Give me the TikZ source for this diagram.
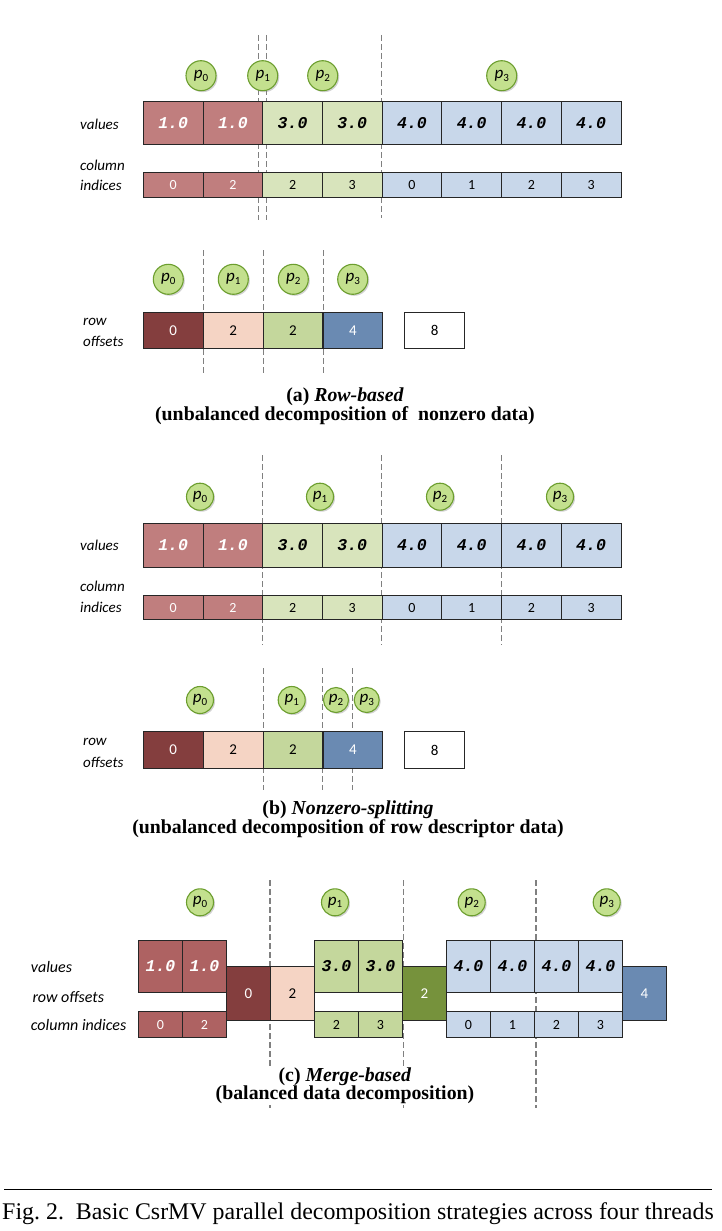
\documentclass[tikz,border=0pt]{standalone}
\usepackage{fontspec}
\usepackage{xcolor}
\usepackage{tikz}
\usetikzlibrary{shadows}
\setmainfont{Liberation Serif}
\newfontfamily\lblfont{Carlito}
\newfontfamily\valfont{Liberation Mono}

\definecolor{redA}{HTML}{C07E7E}
\definecolor{greenA}{HTML}{D8E4BC}
\definecolor{blueA}{HTML}{C8D7EA}
\definecolor{redC}{HTML}{AE6262}
\definecolor{greenC}{HTML}{C4D79C}
\definecolor{offdark}{HTML}{843E3E}
\definecolor{offpink}{HTML}{F5D4C4}
\definecolor{offgreen}{HTML}{C4D79C}
\definecolor{offolive}{HTML}{76923C}
\definecolor{offblue}{HTML}{6A8AB2}
\definecolor{pfill}{HTML}{C3E08E}
\definecolor{pborder}{HTML}{6C9E2E}

\newcommand{\thr}[1]{{\itshape p}\raisebox{-0.35ex}{\fontsize{11}{11}\selectfont #1}}

\tikzset{
  vcell/.style={draw=black!85,line width=0.8pt,inner sep=0pt,minimum width=59.7pt,minimum height=43.3pt,
    font=\valfont\bfseries\itshape\fontsize{16.5}{18}\selectfont},
  icell/.style={draw=black!85,line width=0.8pt,inner sep=0pt,minimum width=59.7pt,minimum height=24.6pt,
    font=\lblfont\fontsize{14}{16}\selectfont},
  ocell/.style={draw=black!85,line width=0.8pt,inner sep=0pt,minimum width=59.7pt,minimum height=36.7pt,
    font=\lblfont\fontsize{15}{17}\selectfont},
  thread/.style={circle,draw=pborder,fill=pfill,line width=1.1pt,minimum size=27pt,inner sep=0pt,
    font=\lblfont\fontsize{17}{19}\selectfont,
    drop shadow={opacity=0.35,shadow xshift=1.5pt,shadow yshift=-1.5pt}},
  split/.style={draw=black!50,line width=1.2pt,dash pattern=on 6pt off 3pt},
  lbl/.style={anchor=west,inner sep=0pt,font=\lblfont\itshape\fontsize{15}{17}\selectfont},
  capt/.style={align=center,inner sep=0pt,font=\bfseries\fontsize{19.8}{18}\selectfont}
}

\begin{document}
\begin{tikzpicture}[x=1pt,y=-1pt]
    \useasboundingbox[fill=white] (0,0) rectangle (722,1231);

    % (a) row-based
    \draw[split] (258.7,35) -- (258.7,220);
    \draw[split] (266.7,35) -- (266.7,220);
    \draw[split] (381.7,35) -- (381.7,218);
    \node[thread,minimum size=30pt] (ap0) at (201,75.7) {\thr{0}};
    \node[thread,minimum size=30pt] (ap1) at (262.7,75.7) {\thr{1}};
    \node[thread,minimum size=30pt] (ap2) at (322.7,75.7) {\thr{2}};
    \node[thread,minimum size=30pt] (ap3) at (501.7,75.7) {\thr{3}};
    \node[lbl] (avl) at (80,124) {values};
    \node[lbl] (acl) at (80,165) {column};
    \node[lbl] (ail) at (80,185) {indices};
    \node[vcell,fill=redA,text=white] (av1) at (173.15,122.7) {1.0};
    \node[vcell,fill=redA,text=white] (av2) at (232.85,122.7) {1.0};
    \node[vcell,fill=greenA] (av3) at (292.55,122.7) {3.0};
    \node[vcell,fill=greenA] (av4) at (352.25,122.7) {3.0};
    \node[vcell,fill=blueA] (av5) at (411.95,122.7) {4.0};
    \node[vcell,fill=blueA] (av6) at (471.65,122.7) {4.0};
    \node[vcell,fill=blueA] (av7) at (531.35,122.7) {4.0};
    \node[vcell,fill=blueA] (av8) at (591.05,122.7) {4.0};
    \node[icell,fill=redA,text=white] (ac1) at (173.15,185) {0};
    \node[icell,fill=redA,text=white] (ac2) at (232.85,185) {2};
    \node[icell,fill=greenA] (ac3) at (292.55,185) {2};
    \node[icell,fill=greenA] (ac4) at (352.25,185) {3};
    \node[icell,fill=blueA] (ac5) at (411.95,185) {0};
    \node[icell,fill=blueA] (ac6) at (471.65,185) {1};
    \node[icell,fill=blueA] (ac7) at (531.35,185) {2};
    \node[icell,fill=blueA] (ac8) at (591.05,185) {3};

    \draw[split] (203.3,250) -- (203.3,375);
    \draw[split] (263.3,250) -- (263.3,375);
    \draw[split] (323.3,250) -- (323.3,375);
    \node[thread,minimum size=30pt] (aq0) at (168.3,279.3) {\thr{0}};
    \node[thread,minimum size=30pt] (aq1) at (233.3,279.3) {\thr{1}};
    \node[thread,minimum size=30pt] (aq2) at (293.3,279.3) {\thr{2}};
    \node[thread,minimum size=30pt] (aq3) at (352.7,279.3) {\thr{3}};
    \node[lbl] (arl) at (83,321.7) {row};
    \node[lbl] (aol) at (83,341.7) {offsets};
    \node[ocell,fill=offdark,text=white] (ar1) at (173.2,330.3) {0};
    \node[ocell,fill=offpink] (ar2) at (233.1,330.3) {2};
    \node[ocell,fill=offgreen] (ar3) at (292.9,330.3) {2};
    \node[ocell,fill=offblue,text=white] (ar4) at (352.8,330.3) {4};
    \node[ocell,fill=white] (ar5) at (434.7,330.3) {8};
    \node[capt] (capa) at (345,406) {(a) \textit{Row-based}\\(unbalanced decomposition of~ nonzero data)};

    % (b) nonzero-splitting
    \draw[split] (262.7,455) -- (262.7,645);
    \draw[split] (381.7,455) -- (381.7,645);
    \draw[split] (501.7,455) -- (501.7,645);
    \node[thread] (bp0) at (200,496.7) {\thr{0}};
    \node[thread] (bp1) at (320,496.7) {\thr{1}};
    \node[thread] (bp2) at (440,496.7) {\thr{2}};
    \node[thread] (bp3) at (560,496.7) {\thr{3}};
    \node[lbl] (bvl) at (80,545.5) {values};
    \node[lbl] (bcl) at (80,586.5) {column};
    \node[lbl] (bil) at (80,607) {indices};
    \node[vcell,fill=redA,text=white] (bv1) at (173.15,545.3) {1.0};
    \node[vcell,fill=redA,text=white] (bv2) at (232.85,545.3) {1.0};
    \node[vcell,fill=greenA] (bv3) at (292.55,545.3) {3.0};
    \node[vcell,fill=greenA] (bv4) at (352.25,545.3) {3.0};
    \node[vcell,fill=blueA] (bv5) at (411.95,545.3) {4.0};
    \node[vcell,fill=blueA] (bv6) at (471.65,545.3) {4.0};
    \node[vcell,fill=blueA] (bv7) at (531.35,545.3) {4.0};
    \node[vcell,fill=blueA] (bv8) at (591.05,545.3) {4.0};
    \node[icell,fill=redA,text=white] (bc1) at (173.15,607.5) {0};
    \node[icell,fill=redA,text=white] (bc2) at (232.85,607.5) {2};
    \node[icell,fill=greenA] (bc3) at (292.55,607.5) {2};
    \node[icell,fill=greenA] (bc4) at (352.25,607.5) {3};
    \node[icell,fill=blueA] (bc5) at (411.95,607.5) {0};
    \node[icell,fill=blueA] (bc6) at (471.65,607.5) {1};
    \node[icell,fill=blueA] (bc7) at (531.35,607.5) {2};
    \node[icell,fill=blueA] (bc8) at (591.05,607.5) {3};

    \draw[split] (263.3,668) -- (263.3,790);
    \draw[split] (322.7,668) -- (322.7,790);
    \draw[split] (352.7,668) -- (352.7,790);
    \node[thread] (bq0) at (200,700) {\thr{0}};
    \node[thread] (bq1) at (291.7,700) {\thr{1}};
    \node[thread,minimum size=25pt] (bq2) at (336,700) {\thr{2}};
    \node[thread,minimum size=25pt] (bq3) at (366.7,700) {\thr{3}};
    \node[lbl] (brl) at (83,742) {row};
    \node[lbl] (bol) at (83,762) {offsets};
    \node[ocell,fill=offdark,text=white] (br1) at (173.2,750) {0};
    \node[ocell,fill=offpink] (br2) at (233.1,750) {2};
    \node[ocell,fill=offgreen] (br3) at (292.9,750) {2};
    \node[ocell,fill=offblue,text=white] (br4) at (352.8,750) {4};
    \node[ocell,fill=white] (br5) at (434.7,750) {8};
    \node[capt] (capb) at (348,819) {(b) \textit{Nonzero-splitting}\\(unbalanced decomposition of row descriptor data)};

    % (c) merge-based
    \draw[split] (270,880) -- (270,1108);
    \draw[split] (403.3,880) -- (403.3,1108);
    \draw[split] (536,880) -- (536,1108);
    \node[thread] (cp0) at (200,902.3) {\thr{0}};
    \node[thread] (cp1) at (335,902.3) {\thr{1}};
    \node[thread] (cp2) at (471.7,902.3) {\thr{2}};
    \node[thread] (cp3) at (606.7,902.3) {\thr{3}};
    \node[lbl,font=\lblfont\itshape\fontsize{16}{18}\selectfont] (cvl) at (30.7,967) {values};
    \node[lbl,font=\lblfont\itshape\fontsize{16}{18}\selectfont] (col) at (32.3,996.7) {row offsets};
    \node[lbl,font=\lblfont\itshape\fontsize{16}{18}\selectfont] (ccl) at (30.7,1025) {column indices};
    \node[vcell,minimum width=44pt,minimum height=52.7pt,fill=redC,text=white] (cv1) at (160.5,966.3) {1.0};
    \node[vcell,minimum width=44pt,minimum height=52.7pt,fill=redC,text=white] (cv2) at (204.5,966.3) {1.0};
    \node[ocell,minimum width=44pt,minimum height=53.3pt,fill=offdark,text=white] (cr1) at (248.5,993.3) {0};
    \node[ocell,minimum width=44pt,minimum height=53.3pt,fill=offpink] (cr2) at (292.5,993.3) {2};
    \node[vcell,minimum width=44pt,minimum height=52.7pt,fill=greenC] (cv3) at (336.5,966.3) {3.0};
    \node[vcell,minimum width=44pt,minimum height=52.7pt,fill=greenC] (cv4) at (380.5,966.3) {3.0};
    \node[ocell,minimum width=44pt,minimum height=53.3pt,fill=offolive,text=white] (cr3) at (424.5,993.3) {2};
    \node[vcell,minimum width=44pt,minimum height=52.7pt,fill=blueA] (cv5) at (468.5,966.3) {4.0};
    \node[vcell,minimum width=44pt,minimum height=52.7pt,fill=blueA] (cv6) at (512.5,966.3) {4.0};
    \node[vcell,minimum width=44pt,minimum height=52.7pt,fill=blueA] (cv7) at (556.5,966.3) {4.0};
    \node[vcell,minimum width=44pt,minimum height=52.7pt,fill=blueA] (cv8) at (600.5,966.3) {4.0};
    \node[ocell,minimum width=44pt,minimum height=53.3pt,fill=offblue,text=white] (cr4) at (644.5,993.3) {4};
    \node[icell,minimum width=44pt,minimum height=25.6pt,fill=redC,text=white] (cc1) at (160.5,1024.5) {0};
    \node[icell,minimum width=44pt,minimum height=25.6pt,fill=redC,text=white] (cc2) at (204.5,1024.5) {2};
    \node[icell,minimum width=44pt,minimum height=25.6pt,fill=greenC] (cc3) at (336.5,1024.5) {2};
    \node[icell,minimum width=44pt,minimum height=25.6pt,fill=greenC] (cc4) at (380.5,1024.5) {3};
    \node[icell,minimum width=44pt,minimum height=25.6pt,fill=blueA] (cc5) at (468.5,1024.5) {0};
    \node[icell,minimum width=44pt,minimum height=25.6pt,fill=blueA] (cc6) at (512.5,1024.5) {1};
    \node[icell,minimum width=44pt,minimum height=25.6pt,fill=blueA] (cc7) at (556.5,1024.5) {2};
    \node[icell,minimum width=44pt,minimum height=25.6pt,fill=blueA] (cc8) at (600.5,1024.5) {3};
    \node[capt,fill=white,inner sep=1pt] (capc) at (345,1086) {(c) \textit{Merge-based}\\(balanced data decomposition)};

    % figure caption
    \draw[line width=0.8pt] (4,1189) -- (712,1189);
    \node[font=\fontsize{23.9}{25}\selectfont,inner sep=0pt] (figcap) at (358,1214) {Fig.~2.\ \ Basic CsrMV parallel decomposition strategies across four threads};
\end{tikzpicture}
\end{document}
